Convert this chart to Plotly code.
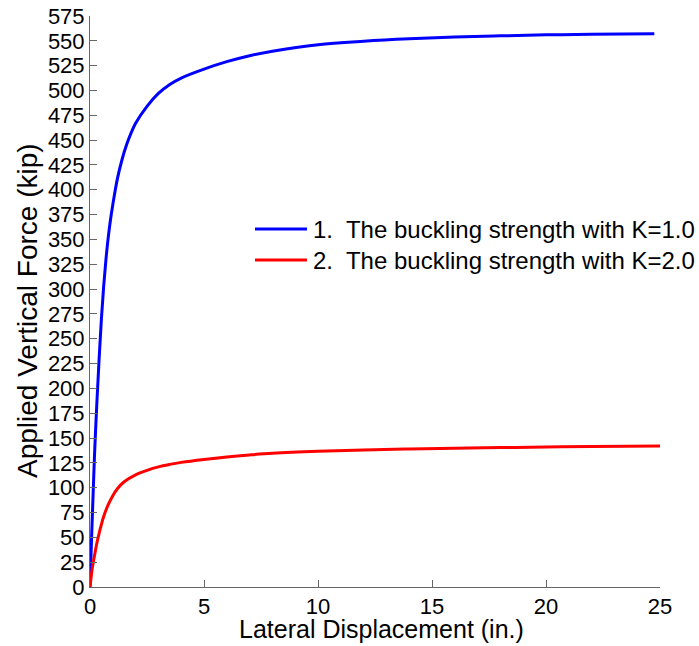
import plotly.graph_objects as go

# Data
blue_x = [0, 0.05, 0.1, 0.15, 0.2, 0.3, 0.4, 0.5, 0.6, 0.7, 0.8, 0.9, 1.0, 1.2, 1.4, 1.6,
          1.8, 2.0, 2.5, 3.0, 3.5, 4.0, 5.0, 6.0, 7.0, 8.0, 10, 12, 14, 16, 18, 20, 22, 24.75]
blue_y = [0, 36, 70, 102, 134, 185, 230, 270, 303, 330, 352, 370, 385, 411, 430, 445,
          457, 467, 484, 497, 506, 512.5, 521.5, 529, 535, 539.5, 546, 549.5, 552, 553.8, 555,
          556, 556.6, 557]

red_x = [0, 0.05, 0.1, 0.2, 0.3, 0.4, 0.5, 0.6, 0.8, 1.0, 1.2, 1.5, 2.0, 2.5, 3.0, 3.5,
         4.0, 5.0, 6.0, 7.0, 8.0, 10, 12, 14, 16, 18, 20, 22, 25]
red_y = [0, 10, 19, 32, 44, 54, 63, 71, 83, 92, 99, 106, 113, 117.5, 121, 123.5,
         125.5, 128.5, 131, 133, 134.6, 136.6, 138, 139, 139.8, 140.4, 141, 141.4, 142]

legend_labels = ["1.  The buckling strength with K=1.0",
                 "2.  The buckling strength with K=2.0"]
series_colors = ["#0000ff", "#ff0000"]

x_ticks = [0, 5, 10, 15, 20, 25]
y_ticks = list(range(0, 576, 25))

FONT = "Liberation Sans, Arial, sans-serif"

fig = go.Figure()
fig.add_trace(go.Scatter(x=blue_x, y=blue_y, mode="lines", name=legend_labels[0],
                         line=dict(color=series_colors[0], width=3, shape="spline", smoothing=1),
                         showlegend=False, hoverinfo="skip"))
fig.add_trace(go.Scatter(x=red_x, y=red_y, mode="lines", name=legend_labels[1],
                         line=dict(color=series_colors[1], width=3, shape="spline", smoothing=1),
                         showlegend=False, hoverinfo="skip"))

axis_common = dict(showgrid=False, zeroline=False, showline=True, linecolor="#666666",
                   linewidth=1, ticks="inside", ticklen=7, tickwidth=1, tickcolor="#666666",
                   tickfont=dict(family=FONT, size=22, color="black"), mirror=False,
                   automargin=False)

fig.update_xaxes(range=[0, 25], tickvals=x_ticks, **axis_common)
fig.update_yaxes(range=[0, 575], tickvals=y_ticks, **axis_common)

W, H = 699, 646
ml, mr, mt, mb = 90, 39, 16, 59
pw, ph = W - ml - mr, H - mt - mb

def px2paper(px, py):
    return (px - ml) / pw, (H - mb - py) / ph

shapes = []
annotations = []
for i, (lab, col) in enumerate(zip(legend_labels, series_colors)):
    yy = 229 + i * 31
    x0, y0 = px2paper(255, yy)
    x1, _ = px2paper(307, yy)
    shapes.append(dict(type="line", xref="paper", yref="paper", x0=x0, x1=x1, y0=y0, y1=y0,
                       line=dict(color=col, width=3)))
    tx, ty = px2paper(311, yy)
    annotations.append(dict(text=lab, xref="paper", yref="paper", x=tx, y=ty,
                            xanchor="left", yanchor="middle", showarrow=False,
                            font=dict(family=FONT, size=24, color="black")))

ax, ay = px2paper(381, 629)
annotations.append(dict(text="Lateral Displacement (in.)", xref="paper", yref="paper",
                        x=ax, y=ay, xanchor="center", yanchor="middle", showarrow=False,
                        font=dict(family=FONT, size=25, color="black")))
bx, by = px2paper(27, 311)
annotations.append(dict(text="Applied Vertical Force (kip)", xref="paper", yref="paper",
                        x=bx, y=by, xanchor="center", yanchor="middle", showarrow=False,
                        textangle=-90, font=dict(family=FONT, size=28, color="black")))

fig.update_layout(width=W, height=H, margin=dict(l=ml, r=mr, t=mt, b=mb),
                  plot_bgcolor="white", paper_bgcolor="white", hovermode=False,
                  shapes=shapes, annotations=annotations, showlegend=False)

fig.write_html("out.html", config={"displayModeBar": False},
               post_script="document.body.style.margin='0';")
